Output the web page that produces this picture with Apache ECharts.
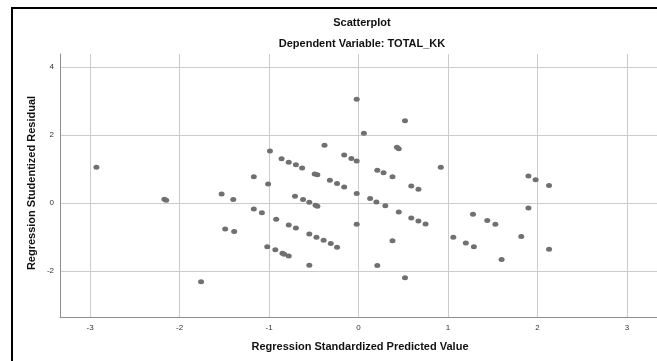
<!DOCTYPE html>
<html>
<head>
<meta charset="utf-8">
<script src="https://cdn.jsdelivr.net/npm/echarts@6/dist/echarts.min.js"></script>
<style>
html,body{margin:0;padding:0;background:#fff;}
#chart{width:657px;height:361px;}
</style>
</head>
<body>
<div id="chart"></div>
<script>
// Data
const predicted = [-2.93,-2.17,-2.15,-1.76,-1.53,-1.40,-1.49,-1.39,-1.17,-1.17,-1.08,-1.01,-0.99,-1.02,-0.93,-0.85,-0.83,-0.78,-0.92,-0.78,-0.70,-0.86,-0.78,-0.70,-0.63,-0.71,-0.62,-0.55,-0.48,-0.46,-0.55,-0.47,-0.39,-0.31,-0.24,-0.55,-0.38,-0.49,-0.46,-0.32,-0.24,-0.16,-0.16,-0.08,-0.02,-0.02,-0.02,-0.02,0.06,0.13,0.20,0.30,0.45,0.59,0.67,0.75,0.21,0.28,0.38,0.59,0.67,0.43,0.45,0.52,0.38,0.21,0.52,0.92,1.06,1.20,1.29,1.28,1.44,1.53,1.60,1.82,1.90,1.90,1.98,2.13,2.13];
const residual = [1.06,0.12,0.09,-2.31,0.27,0.11,-0.76,-0.83,0.78,-0.17,-0.28,0.57,1.54,-1.28,-1.37,-1.47,-1.50,-1.55,-0.47,-0.64,-0.73,1.31,1.21,1.13,1.04,0.21,0.11,0.03,-0.06,-0.09,-0.90,-1.00,-1.09,-1.18,-1.29,-1.82,1.71,0.86,0.84,0.68,0.58,0.48,1.42,1.32,1.24,3.06,0.29,-0.62,2.06,0.14,0.04,-0.07,-0.26,-0.43,-0.52,-0.61,0.97,0.90,0.78,0.51,0.41,1.65,1.60,2.43,-1.10,-1.83,-2.19,1.06,-1.00,-1.17,-1.28,-0.32,-0.51,-0.62,-1.65,-0.98,-0.14,0.80,0.69,0.52,-1.35];
const xTicks = [-3,-2,-1,0,1,2,3];
const yTicks = [-2,0,2,4];
const titleText = 'Scatterplot';
const subtitleText = 'Dependent Variable: TOTAL_KK';
const xTitle = 'Regression Standardized Predicted Value';
const yTitle = 'Regression Studentized Residual';

const points = predicted.map((x,i)=>[x,residual[i]]);
const font = 'Liberation Sans, Arial, sans-serif';

const chart = echarts.init(document.getElementById('chart'), null, {renderer:'canvas'});
chart.setOption({
  animation:false,
  backgroundColor:'#ffffff',
  grid:{left:60, top:54, width:601, height:263.7, containLabel:false},
  xAxis:{
    type:'value', min:-3.337, max:3.337,
    axisLine:{show:true, onZero:false, lineStyle:{color:'#8e8e8e', width:1}},
    axisTick:{show:false, customValues:xTicks},
    axisLabel:{customValues:xTicks, fontSize:8, color:'#333', margin:6, fontFamily:font},
    splitLine:{show:true, lineStyle:{color:'#cccccc', width:1}}
  },
  yAxis:{
    type:'value', min:-3.365, max:4.39,
    axisLine:{show:true, onZero:false, lineStyle:{color:'#8e8e8e', width:1}},
    axisTick:{show:false, customValues:yTicks},
    axisLabel:{customValues:yTicks, fontSize:8, color:'#333', margin:6, fontFamily:font},
    splitLine:{show:true, lineStyle:{color:'#cccccc', width:1}}
  },
  series:[{
    type:'scatter',
    data:points,
    symbol:'circle',
    symbolSize:[6,5],
    itemStyle:{color:'#707070', opacity:1},
    silent:true
  }],
  graphic:[
    {type:'polyline', shape:{points:[[12,361],[12,8],[657,8]]}, style:{stroke:'#000', lineWidth:2, fill:null}},
    {type:'text', x:362, y:23, style:{text:titleText, font:'bold 11px '+font, fill:'#111', textAlign:'center', textVerticalAlign:'middle'}},
    {type:'text', x:362, y:44, style:{text:subtitleText, font:'bold 11px '+font, fill:'#111', textAlign:'center', textVerticalAlign:'middle'}},
    {type:'text', x:360, y:347, style:{text:xTitle, font:'bold 11px '+font, fill:'#111', textAlign:'center', textVerticalAlign:'middle'}},
    {type:'text', x:32, y:183, rotation:Math.PI/2, style:{text:yTitle, font:'bold 11px '+font, fill:'#111', textAlign:'center', textVerticalAlign:'middle'}}
  ]
});
</script>
</body>
</html>
